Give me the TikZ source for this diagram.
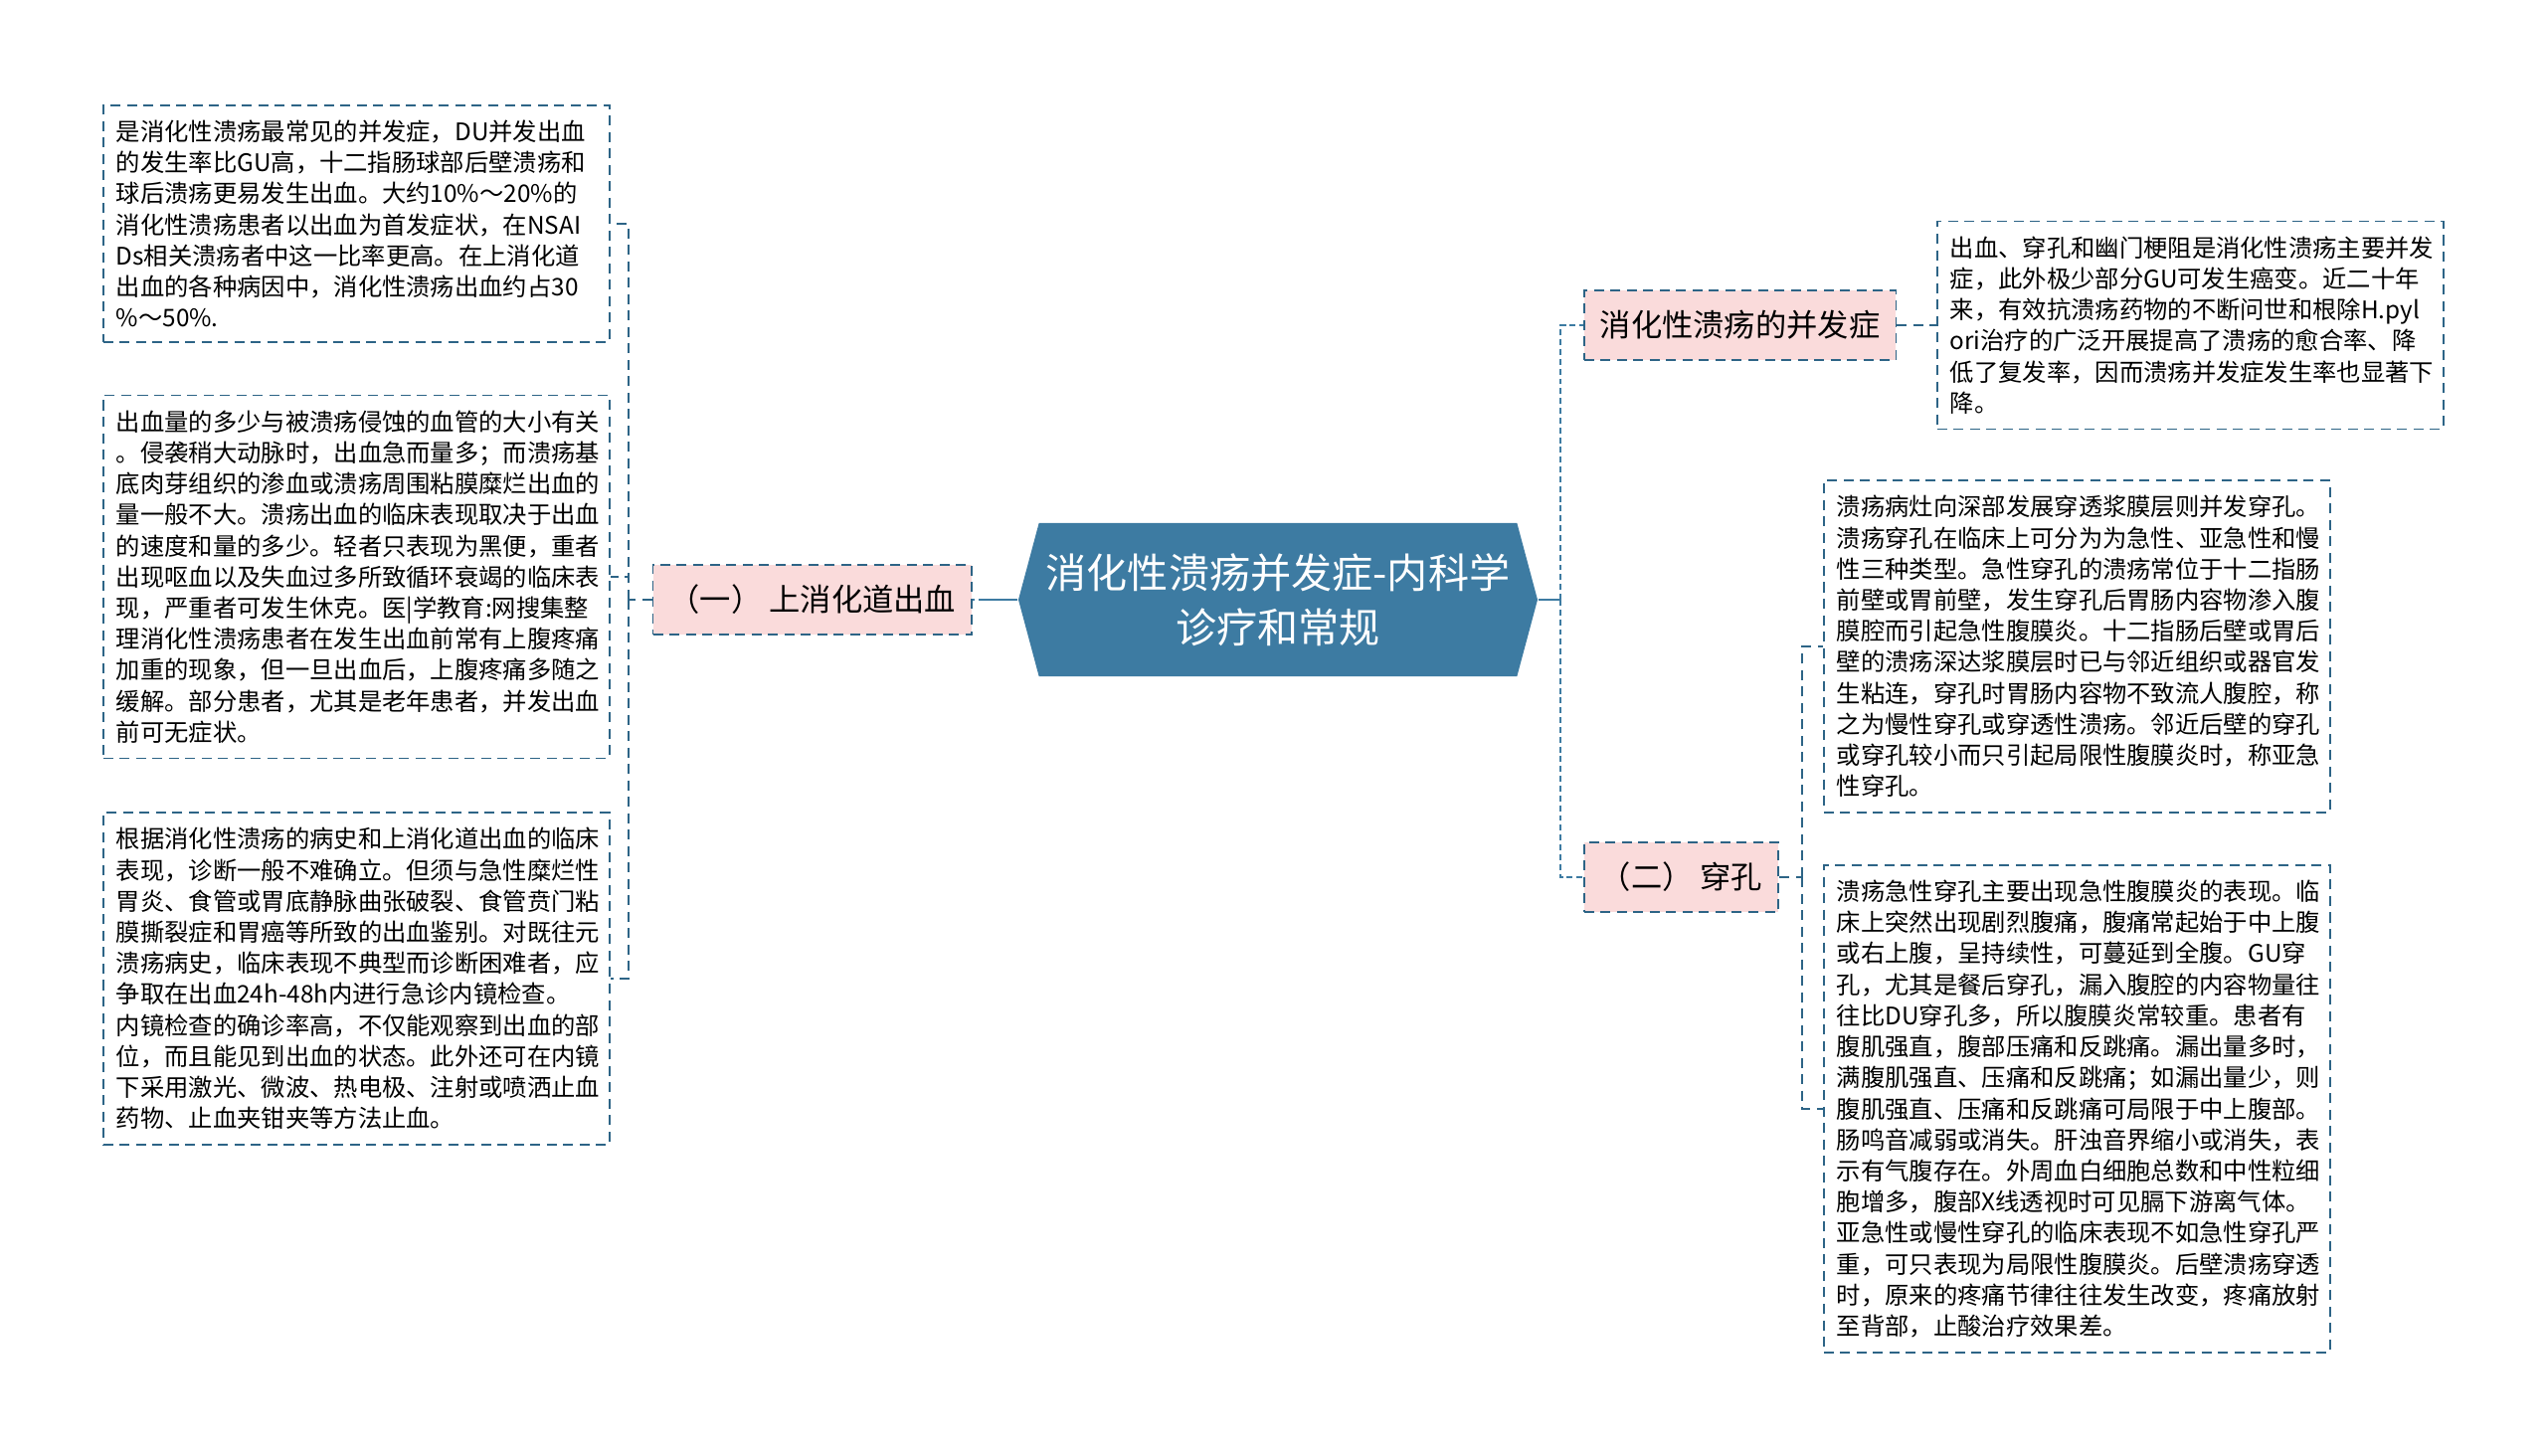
\documentclass[tikz,border=0pt]{standalone}
\usepackage{fontspec}
\setmainfont{Noto Sans CJK SC}
\usetikzlibrary{shapes.symbols}
\definecolor{hubblue}{HTML}{3D7BA2}
\definecolor{edgeblue}{HTML}{2D6486}
\definecolor{pinkfill}{HTML}{FADBDB}
\begin{document}
\begin{tikzpicture}[
  hub/.style={shape=signal, signal to=east and west, signal pointer angle=150, fill=hubblue, text=white, minimum width=5.22cm, minimum height=1.54cm, inner sep=0pt, align=center, font=\fontsize{11.7pt}{15.8pt}\selectfont},
  branch/.style={draw=edgeblue, line width=0.45pt, dash pattern=on 2.85pt off 1.85pt, fill=pinkfill, minimum height=0.70cm, inner xsep=0.16cm, font=\fontsize{8.9pt}{10pt}\selectfont},
  leaf/.style={draw=edgeblue, line width=0.45pt, dash pattern=on 2.85pt off 1.85pt, fill=white, text width=4.83cm, align=left, inner xsep=0.13cm, inner ysep=0.15cm, anchor=west, font=\fontsize{6.92pt}{8.88pt}\selectfont},
  trunk/.style={draw=hubblue, line width=0.8pt},
  trunkdash/.style={trunk, dash pattern=on 1.7pt off 1.1pt},
  twig/.style={draw=edgeblue, line width=0.45pt, dash pattern=on 2.85pt off 1.85pt}]
  \useasboundingbox (0,0) rectangle (25.6,-14.64);
  \node[hub] (hub) at (12.85,-6.03) {消化性溃疡并发症-内科学\\诊疗和常规};
  \node[branch, anchor=east] (bleed) at (9.78,-6.03) {（一） 上消化道出血};
  \node[branch, anchor=west] (compl) at (15.92,-3.27) {消化性溃疡的并发症};
  \node[branch, anchor=west] (perf) at (15.92,-8.82) {（二） 穿孔};
  % leaves on the left
  \node[leaf] (bleedA) at (1.03,-2.25) {是消化性溃疡最常见的并发症，DU并发出血\\
的发生率比GU高，十二指肠球部后壁溃疡和\\
球后溃疡更易发生出血。大约10\%～20\%的\\
消化性溃疡患者以出血为首发症状，在NSAI\\
Ds相关溃疡者中这一比率更高。在上消化道\\
出血的各种病因中，消化性溃疡出血约占30\\
\%～50\%.};
  \node[leaf] (bleedB) at (1.03,-5.80) {出血量的多少与被溃疡侵蚀的血管的大小有关\\
。侵袭稍大动脉时，出血急而量多；而溃疡基\\
底肉芽组织的渗血或溃疡周围粘膜糜烂出血的\\
量一般不大。溃疡出血的临床表现取决于出血\\
的速度和量的多少。轻者只表现为黑便，重者\\
出现呕血以及失血过多所致循环衰竭的临床表\\
现，严重者可发生休克。医|学教育:网搜集整\\
理消化性溃疡患者在发生出血前常有上腹疼痛\\
加重的现象，但一旦出血后，上腹疼痛多随之\\
缓解。部分患者，尤其是老年患者，并发出血\\
前可无症状。};
  \node[leaf] (bleedC) at (1.03,-9.84) {根据消化性溃疡的病史和上消化道出血的临床\\
表现，诊断一般不难确立。但须与急性糜烂性\\
胃炎、食管或胃底静脉曲张破裂、食管贲门粘\\
膜撕裂症和胃癌等所致的出血鉴别。对既往元\\
溃疡病史，临床表现不典型而诊断困难者，应\\
争取在出血24h-48h内进行急诊内镜检查。\\
内镜检查的确诊率高，不仅能观察到出血的部\\
位，而且能见到出血的状态。此外还可在内镜\\
下采用激光、微波、热电极、注射或喷洒止血\\
药物、止血夹钳夹等方法止血。};
  % leaves on the right
  \node[leaf] (complA) at (19.47,-3.27) {出血、穿孔和幽门梗阻是消化性溃疡主要并发\\
症，此外极少部分GU可发生癌变。近二十年\\
来，有效抗溃疡药物的不断问世和根除H.pyl\\
ori治疗的广泛开展提高了溃疡的愈合率、降\\
低了复发率，因而溃疡并发症发生率也显著下\\
降。};
  \node[leaf] (perfA) at (18.33,-6.50) {溃疡病灶向深部发展穿透浆膜层则并发穿孔。\\
溃疡穿孔在临床上可分为为急性、亚急性和慢\\
性三种类型。急性穿孔的溃疡常位于十二指肠\\
前壁或胃前壁，发生穿孔后胃肠内容物渗入腹\\
膜腔而引起急性腹膜炎。十二指肠后壁或胃后\\
壁的溃疡深达浆膜层时已与邻近组织或器官发\\
生粘连，穿孔时胃肠内容物不致流人腹腔，称\\
之为慢性穿孔或穿透性溃疡。邻近后壁的穿孔\\
或穿孔较小而只引起局限性腹膜炎时，称亚急\\
性穿孔。};
  \node[leaf] (perfB) at (18.33,-11.15) {溃疡急性穿孔主要出现急性腹膜炎的表现。临\\
床上突然出现剧烈腹痛，腹痛常起始于中上腹\\
或右上腹，呈持续性，可蔓延到全腹。GU穿\\
孔，尤其是餐后穿孔，漏入腹腔的内容物量往\\
往比DU穿孔多，所以腹膜炎常较重。患者有\\
腹肌强直，腹部压痛和反跳痛。漏出量多时，\\
满腹肌强直、压痛和反跳痛；如漏出量少，则\\
腹肌强直、压痛和反跳痛可局限于中上腹部。\\
肠鸣音减弱或消失。肝浊音界缩小或消失，表\\
示有气腹存在。外周血白细胞总数和中性粒细\\
胞增多，腹部X线透视时可见膈下游离气体。\\
亚急性或慢性穿孔的临床表现不如急性穿孔严\\
重，可只表现为局限性腹膜炎。后壁溃疡穿透\\
时，原来的疼痛节律往往发生改变，疼痛放射\\
至背部，止酸治疗效果差。};
  % connectors
  \coordinate (lstub) at (9.90,-6.03);
  \coordinate (rbus) at (15.69,-6.03);
  \coordinate (lbus) at (6.32,-6.03);
  \coordinate (pbus) at (18.12,-8.82);
  \draw[trunk] (hub.west) -- (lstub);
  \draw[trunkdash] (lstub) -- (bleed.east);
  \draw[trunk] (hub.east) -- (rbus);
  \draw[trunkdash] (rbus) |- (compl.west);
  \draw[trunkdash] (rbus) |- (perf.west);
  \draw[twig] (bleed.west) -- (lbus);
  \draw[twig] (lbus) |- (bleedA.east);
  \draw[twig] (lbus) |- (bleedB.east);
  \draw[twig] (lbus) |- (bleedC.east);
  \draw[twig] (compl.east) -- (complA.west);
  \draw[twig] (perf.east) -- (pbus);
  \draw[twig] (pbus) |- (perfA.west);
  \draw[twig] (pbus) |- (perfB.west);
\end{tikzpicture}
\end{document}
